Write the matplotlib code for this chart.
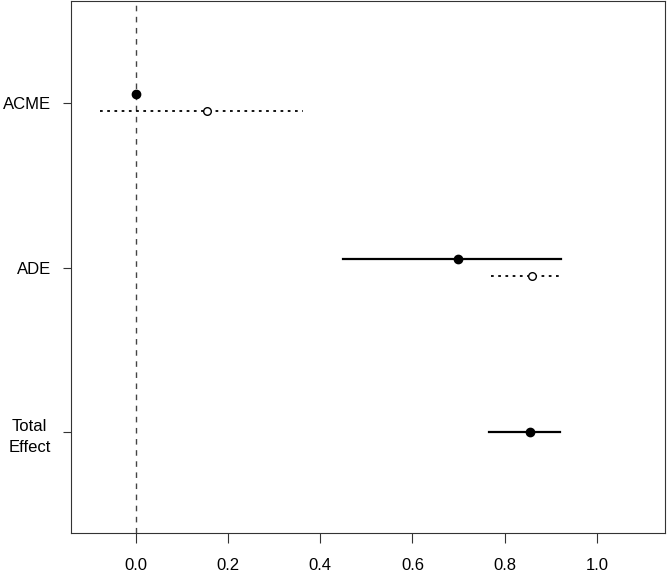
import numpy as np
import matplotlib
matplotlib.use("Agg")
import matplotlib.pyplot as plt

plt.rcParams['font.family'] = ['Liberation Sans', 'DejaVu Sans']

# effects, top to bottom
labels = ["ACME", "ADE", "Total\nEffect"]
ypos = [3, 2, 1]

# treated (filled) estimates and CIs
trt_est = [0.0, 0.698, 0.855]
trt_lo = [0.0, 0.449, 0.766]
trt_hi = [0.0, 0.922, 0.920]

# control (open) estimates and CIs, only for ACME and ADE
ctl_est = [0.154, 0.859]
ctl_lo = [-0.078, 0.770]
ctl_hi = [0.362, 0.920]

off = 0.05

fig = plt.figure(figsize=(6.69, 5.74), dpi=100)
ax = fig.add_axes([71/669, 1 - 533/574, (665-71)/669, (533-0.5)/574])

ax.axvline(0, color='#444444', lw=1, ls=(0, (4, 4)), zorder=1)

for i in range(3):
    y = ypos[i]
    if i < 2:
        y = y + off
    ax.plot([trt_lo[i], trt_hi[i]], [y, y], color='black', lw=1.6, zorder=2)
    ax.plot(trt_est[i], y, 'o', color='black', ms=6, zorder=3)

for i in range(2):
    y = ypos[i] - off
    ax.plot([ctl_lo[i], ctl_hi[i]], [y, y], color='black', lw=1.3,
            ls=(0, (1.5, 2.5)), zorder=2)
    ax.plot(ctl_est[i], y, 'o', mfc='white', mec='black', mew=1, ms=5.5, zorder=3)

ax.set_xlim(-0.141, 1.148)
ax.set_ylim(0.39, 3.62)
ax.set_xticks([0.0, 0.2, 0.4, 0.6, 0.8, 1.0])
ax.set_xticklabels(["0.0", "0.2", "0.4", "0.6", "0.8", "1.0"])
ax.set_yticks(ypos)
ax.set_yticklabels(labels)
for t in ax.get_yticklabels():
    t.set_multialignment('center')
    t.set_linespacing(1.5)
ax.tick_params(axis='both', width=0.8, color='#333333', labelsize=12)
ax.tick_params(axis='x', length=7, pad=11)
ax.tick_params(axis='y', length=6, pad=8.5)
for s in ax.spines.values():
    s.set_linewidth(0.8)
    s.set_color('#333333')

fig.savefig("out.png", dpi=100)
